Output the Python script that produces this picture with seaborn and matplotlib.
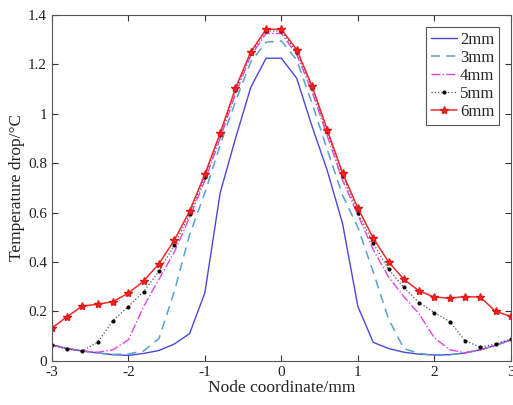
import matplotlib
matplotlib.use("Agg")
import matplotlib.pyplot as plt
import seaborn as sns

# Node coordinates (mm)
x_mm = [-3.0, -2.8, -2.6, -2.4, -2.2, -2.0, -1.8, -1.6, -1.4, -1.2, -1.0,
        -0.8, -0.6, -0.4, -0.2, 0.0, 0.2, 0.4, 0.6, 0.8, 1.0,
        1.2, 1.4, 1.6, 1.8, 2.0, 2.2, 2.4, 2.6, 2.8, 3.0]

# Temperature drop (degC) for each size
drop_2mm = [0.065, 0.05, 0.04, 0.032, 0.025, 0.022, 0.03, 0.042, 0.068, 0.11, 0.275,
            0.68, 0.90, 1.107, 1.225, 1.225, 1.144, 0.95, 0.77, 0.555, 0.22,
            0.075, 0.05, 0.035, 0.027, 0.024, 0.025, 0.032, 0.045, 0.063, 0.085]
drop_3mm = [0.065, 0.05, 0.04, 0.032, 0.026, 0.028, 0.04, 0.09, 0.28, 0.51, 0.68,
            0.874, 1.05, 1.21, 1.29, 1.295, 1.218, 1.043, 0.854, 0.67, 0.54,
            0.36, 0.17, 0.05, 0.03, 0.022, 0.025, 0.032, 0.045, 0.063, 0.085]
drop_4mm = [0.065, 0.05, 0.04, 0.035, 0.045, 0.085, 0.22, 0.33, 0.44, 0.58, 0.73,
            0.90, 1.08, 1.235, 1.325, 1.325, 1.24, 1.09, 0.91, 0.73, 0.59,
            0.45, 0.34, 0.26, 0.19, 0.093, 0.045, 0.033, 0.045, 0.063, 0.085]
drop_5mm = [0.065, 0.047, 0.04, 0.076, 0.163, 0.22, 0.28, 0.363, 0.467, 0.594, 0.745,
            0.915, 1.095, 1.245, 1.335, 1.335, 1.25, 1.105, 0.925, 0.75, 0.6,
            0.476, 0.371, 0.297, 0.236, 0.195, 0.159, 0.082, 0.055, 0.069, 0.088]
drop_6mm = [0.132, 0.179, 0.222, 0.229, 0.24, 0.274, 0.323, 0.393, 0.488, 0.606, 0.755,
            0.922, 1.103, 1.251, 1.342, 1.342, 1.26, 1.113, 0.935, 0.76, 0.618,
            0.497, 0.401, 0.33, 0.283, 0.258, 0.254, 0.26, 0.258, 0.2, 0.18]

labels = ["2mm", "3mm", "4mm", "5mm", "6mm"]
x_ticks = [-3, -2, -1, 0, 1, 2, 3]
y_ticks = [0, 0.2, 0.4, 0.6, 0.8, 1, 1.2, 1.4]
y_tick_labels = ["0", "0.2", "0.4", "0.6", "0.8", "1", "1.2", "1.4"]

sns.set_style("ticks")
plt.rcParams["font.family"] = ["Liberation Serif", "DejaVu Serif"]

fig = plt.figure(figsize=(5.13, 4.05), dpi=100)
ax = fig.add_axes([0.101, 0.109, 0.895, 0.854])

# estilos de cada serie
estilos = [
    dict(color="#4848dc", linestyle="-", linewidth=1.0),
    dict(color="#55a2cc", linestyle=(0, (6, 4)), linewidth=1.1),
    dict(color="#e044e0", linestyle="-.", linewidth=1.0),
    dict(color="#505050", linestyle=":", linewidth=0.9,
         marker="o", markersize=2.2, markerfacecolor="black",
         markeredgecolor="black"),
    dict(color="#f02828", linestyle="-", linewidth=1.1,
         marker="*", markersize=6, markerfacecolor="#f02828",
         markeredgecolor="#e01818", markeredgewidth=1.0),
]

series = [drop_2mm, drop_3mm, drop_4mm, drop_5mm, drop_6mm]
for valores, nombre, est in zip(series, labels, estilos):
    sns.lineplot(x=x_mm, y=valores, ax=ax, label=nombre, **est)

ax.set_xlim(-3, 3)
ax.set_ylim(0, 1.4)
ax.set_xticks(x_ticks)
ax.set_xticklabels([str(t) for t in x_ticks])
ax.set_yticks(y_ticks)
ax.set_yticklabels(y_tick_labels)

ax.tick_params(direction="in", top=True, right=True, labelsize=11,
               length=4, width=0.8, colors="#333333", labelcolor="#222222")
for s in ax.spines.values():
    s.set_visible(True)
    s.set_linewidth(0.8)
    s.set_color("#555555")

ax.set_xlabel("Node coordinate/mm", fontsize=12.5, color="#222222", labelpad=1)
ax.set_ylabel("Temperature drop/\u00b0C", fontsize=12.5, color="#222222", labelpad=2)

leg = ax.legend(loc="upper right", fontsize=12, frameon=True, fancybox=False,
                edgecolor="#555555", framealpha=1, handlelength=1.6,
                handletextpad=0.15, labelspacing=0.12, borderpad=0.3,
                borderaxespad=0.7)
leg.get_frame().set_linewidth(0.8)

fig.savefig("out.png", dpi=100)
